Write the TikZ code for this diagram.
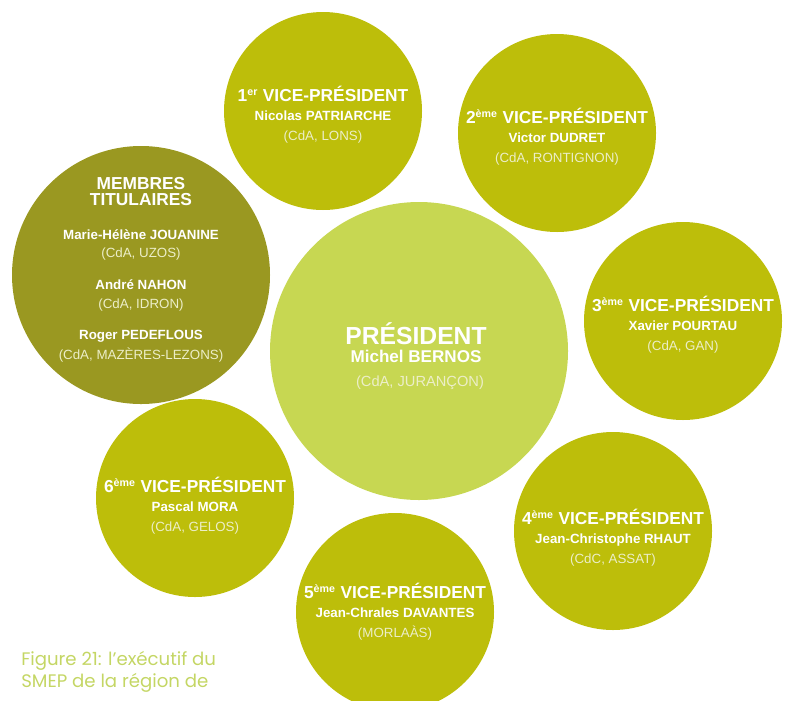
\documentclass[tikz,border=0pt]{standalone}
\usepackage{fontspec}
\setmainfont{Liberation Sans}
\newfontfamily\capfont{Poppins}
\usetikzlibrary{positioning}
\definecolor{olivevp}{RGB}{189,190,10}
\definecolor{olivemb}{RGB}{154,152,33}
\definecolor{greenpr}{RGB}{199,215,82}
\definecolor{paletxt}{RGB}{236,238,200}
\definecolor{capgreen}{RGB}{196,214,100}
\newcommand{\ttl}[1]{{\fontsize{13}{14.5}\selectfont\bfseries #1}}
\newcommand{\ordn}[1]{\raisebox{4.3pt}{\fontsize{8}{8}\selectfont\bfseries #1}\hspace{0.5pt}}
\newcommand{\who}[1]{{\bfseries #1}}
\newcommand{\lieu}[1]{{\color{paletxt}#1}}

\begin{document}
\begin{tikzpicture}[x=0.75pt, y=-0.75pt,
    bubble/.style = {circle, inner sep=0pt, minimum size=#1*1.5pt},
    vp/.style = {bubble=99, fill=olivevp},
    txt/.style = {text=white, align=center, inner sep=0pt,
                  font=\fontsize{10}{14.5}\selectfont},
    capt/.style = {text=capgreen, align=left, inner sep=0pt,
                   font=\capfont\fontsize{13.6}{16.5}\selectfont}]
\useasboundingbox (0,0) rectangle (787,700);
\clip (0,0) rectangle (787,700);
% circles
\node[bubble=129, fill=olivemb] (memb) at (141,275) {};
\node[vp] (vp1) at (323,111) {};
\node[vp] (vp2) at (557,133) {};
\node[vp] (vp3) at (683,321) {};
\node[vp] (vp4) at (613,531) {};
\node[vp] (vp5) at (395,612) {};
\node[vp] (vp6) at (195,498) {};
\node[bubble=149, fill=greenpr] (pres) at (419,351) {};
% texts
\node[txt] (membt) at (141,270) {\ttl{MEMBRES}\\[-2.5pt]\ttl{TITULAIRES}\\[11pt]
    \who{Marie-Hélène JOUANINE}\\[-1pt]\lieu{(CdA, UZOS)}\\[9.5pt]
    \who{André NAHON}\\\lieu{(CdA, IDRON)}\\[8.75pt]
    \who{Roger PEDEFLOUS}\\[0.5pt]\lieu{(CdA, MAZÈRES-LEZONS)}};
\node[txt] (vp1t) at (323,115) {\ttl{1\ordn{er} VICE-PRÉSIDENT}\\
    \who{Nicolas PATRIARCHE}\\[0.5pt]\lieu{(CdA, LONS)}};
\node[txt] (vp2t) at (557,137) {\ttl{2\ordn{ème} VICE-PRÉSIDENT}\\
    \who{Victor DUDRET}\\[0.5pt]\lieu{(CdA, RONTIGNON)}};
\node[txt] (vp3t) at (683,325) {\ttl{3\ordn{ème} VICE-PRÉSIDENT}\\
    \who{Xavier POURTAU}\\[0.5pt]\lieu{(CdA, GAN)}};
\node[txt] (vp4t) at (613,538) {\ttl{4\ordn{ème} VICE-PRÉSIDENT}\\
    \who{Jean-Christophe RHAUT}\\[0.5pt]\lieu{(CdC, ASSAT)}};
\node[txt] (vp5t) at (395,612) {\ttl{5\ordn{ème} VICE-PRÉSIDENT}\\
    \who{Jean-Chrales DAVANTES}\\[0.5pt]\lieu{(MORLAÀS)}};
\node[txt] (vp6t) at (195,506) {\ttl{6\ordn{ème} VICE-PRÉSIDENT}\\
    \who{Pascal MORA}\\[0.5pt]\lieu{(CdA, GELOS)}};
\node[txt] (prest) at (416,356) {{\fontsize{18.5}{20}\selectfont\bfseries PRÉSIDENT}\\[-1pt]
    {\fontsize{12.8}{14}\selectfont\bfseries Michel BERNOS}\\[3.5pt]
    \lieu{\fontsize{11}{13}\selectfont\hspace*{6pt}(CdA, JURANÇON)}};
% caption
\node[capt, anchor=north west] (fig) at (21,651) {Figure 21: l’exécutif du\\SMEP de la région de};
\end{tikzpicture}
\end{document}
